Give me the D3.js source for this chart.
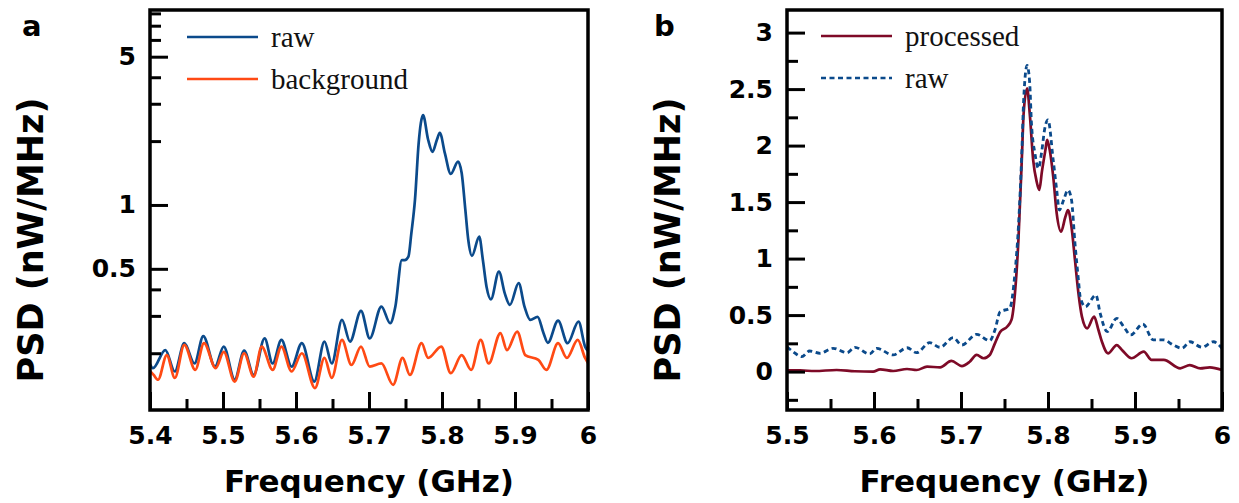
<!DOCTYPE html>
<html>
<head>
<meta charset="utf-8">
<script src="https://cdn.jsdelivr.net/npm/d3@7.9.0/dist/d3.min.js"></script>
<style>
  body { margin: 0; background: #fff; }
  svg { display: block; }
  .axis text { font-family: 'DejaVu Sans', sans-serif; font-weight: bold; font-size: 25px; fill: #000; }
  .axis path.domain { display: none; }
  .axis line { stroke: #000; stroke-width: 3; }
  .axis-title { font-family: 'DejaVu Sans', sans-serif; font-weight: bold; fill: #000; }
  .legend text { font-family: 'Liberation Serif', 'Times New Roman', serif; font-size: 29px; fill: #111; }
</style>
</head>
<body>
<svg id="chart" width="1239" height="503"></svg>
<script>
// ---- panel a: raw vs background (log axis) ----
const rawAFreq = [5.400, 5.404, 5.421, 5.434, 5.447, 5.461, 5.473, 5.489, 5.501, 5.516, 5.529, 5.542, 5.557, 5.568, 5.580, 5.594,
  5.608, 5.625, 5.639, 5.649, 5.663, 5.674, 5.689, 5.701, 5.717, 5.729, 5.736, 5.745, 5.749, 5.754, 5.758, 5.763,
  5.768, 5.771, 5.774, 5.781, 5.787, 5.793, 5.797, 5.804, 5.812, 5.822, 5.827, 5.832, 5.836, 5.841, 5.851, 5.856,
  5.861, 5.867, 5.878, 5.886, 5.893, 5.905, 5.913, 5.921, 5.931, 5.939, 5.945, 5.959, 5.972, 5.987, 5.996, 6.000];
const rawAPsd = [0.178, 0.17, 0.207, 0.164, 0.223, 0.179, 0.241, 0.173, 0.215, 0.15, 0.206, 0.158, 0.235, 0.179, 0.231, 0.173,
  0.223, 0.147, 0.227, 0.179, 0.287, 0.227, 0.317, 0.235, 0.332, 0.277, 0.33, 0.55, 0.55, 0.571, 0.735, 1.06,
  1.95, 2.43, 2.65, 2.03, 1.78, 2.03, 2.19, 1.75, 1.40, 1.6, 1.41, 0.947, 0.684, 0.575, 0.709, 0.55,
  0.412, 0.359, 0.485, 0.383, 0.338, 0.428, 0.332, 0.287, 0.297, 0.249, 0.224, 0.285, 0.223, 0.282, 0.215, 0.205];

const bgAFreq = [5.400, 5.405, 5.411, 5.423, 5.434, 5.447, 5.462, 5.474, 5.490, 5.501, 5.516, 5.529, 5.542, 5.553, 5.568, 5.580,
  5.594, 5.608, 5.626, 5.639, 5.649, 5.663, 5.676, 5.689, 5.701, 5.717, 5.733, 5.746, 5.756, 5.772, 5.781, 5.799,
  5.812, 5.827, 5.840, 5.853, 5.864, 5.880, 5.889, 5.903, 5.914, 5.932, 5.943, 5.959, 5.971, 5.986, 5.996, 6.000];
const bgAPsd = [0.165, 0.158, 0.15, 0.196, 0.153, 0.219, 0.167, 0.223, 0.17, 0.203, 0.147, 0.2, 0.155, 0.215, 0.167, 0.215,
  0.164, 0.2, 0.137, 0.19, 0.153, 0.231, 0.176, 0.215, 0.173, 0.179, 0.142, 0.19, 0.158, 0.223, 0.19, 0.215,
  0.161, 0.196, 0.167, 0.231, 0.179, 0.249, 0.207, 0.253, 0.196, 0.186, 0.167, 0.223, 0.19, 0.231, 0.19, 0.18];

const xTicksA = [5.4, 5.5, 5.6, 5.7, 5.8, 5.9, 6.0];
const xTickLabelsA = ['5.4', '5.5', '5.6', '5.7', '5.8', '5.9', '6'];
const xMinorA = [5.45, 5.55, 5.65, 5.75, 5.85, 5.95];
const yTicksA = [0.5, 1, 5];
const yTickLabelsA = ['0.5', '1', '5'];
const yMinorA = [0.2, 0.3, 0.4, 2, 3, 4, 6, 7, 8];

// ---- panel b: processed vs raw (linear axis) ----
const procBFreq = [5.500, 5.515, 5.532, 5.557, 5.578, 5.599, 5.607, 5.622, 5.638, 5.649, 5.661, 5.676, 5.689, 5.701, 5.710,
  5.718, 5.726, 5.733, 5.739, 5.745, 5.753, 5.758, 5.762, 5.766, 5.770, 5.772, 5.776, 5.779, 5.783, 5.787,
  5.790, 5.793, 5.797, 5.799, 5.802, 5.806, 5.810, 5.815, 5.820, 5.823, 5.827, 5.831, 5.835, 5.839, 5.845,
  5.853, 5.858, 5.862, 5.869, 5.879, 5.885, 5.896, 5.910, 5.919, 5.933, 5.952, 5.963, 5.975, 5.986, 6.000];
const procBPsd = [0.01, 0.01, 0.005, 0.014, 0.003, 0.0, 0.02, 0.005, 0.023, 0.014, 0.043, 0.038, 0.094, 0.049, 0.087,
  0.147, 0.118, 0.147, 0.25, 0.35, 0.397, 0.457, 0.693, 1.165, 1.9, 2.286, 2.507, 2.286, 1.87, 1.68,
  1.607, 1.77, 1.96, 2.05, 1.96, 1.725, 1.4, 1.238, 1.37, 1.43, 1.282, 0.988, 0.693, 0.486, 0.383,
  0.486, 0.368, 0.264, 0.162, 0.235, 0.191, 0.118, 0.176, 0.103, 0.103, 0.029, 0.058, 0.029, 0.038, 0.014];

const rawBFreq = [5.500, 5.507, 5.517, 5.526, 5.538, 5.553, 5.569, 5.578, 5.595, 5.603, 5.622, 5.638, 5.649, 5.664, 5.676,
  5.691, 5.701, 5.718, 5.733, 5.739, 5.745, 5.756, 5.762, 5.766, 5.770, 5.772, 5.776, 5.779, 5.781, 5.785,
  5.789, 5.793, 5.796, 5.800, 5.806, 5.810, 5.813, 5.818, 5.823, 5.827, 5.831, 5.835, 5.837, 5.843, 5.855,
  5.860, 5.868, 5.879, 5.887, 5.895, 5.909, 5.921, 5.933, 5.944, 5.954, 5.963, 5.977, 5.990, 6.000];
const rawBPsd = [0.22, 0.176, 0.132, 0.182, 0.162, 0.206, 0.167, 0.215, 0.156, 0.206, 0.147, 0.211, 0.167, 0.256, 0.215,
  0.3, 0.235, 0.33, 0.273, 0.368, 0.53, 0.56, 0.87, 1.28, 1.96, 2.40, 2.71, 2.55, 2.197, 1.93,
  1.80, 1.96, 2.138, 2.227, 1.87, 1.607, 1.43, 1.52, 1.607, 1.52, 1.135, 0.81, 0.663, 0.574, 0.678,
  0.516, 0.353, 0.471, 0.397, 0.324, 0.421, 0.28, 0.28, 0.235, 0.206, 0.264, 0.215, 0.264, 0.206];

const xTicksB = [5.5, 5.6, 5.7, 5.8, 5.9, 6.0];
const xTickLabelsB = ['5.5', '5.6', '5.7', '5.8', '5.9', '6'];
const xMinorB = [5.55, 5.65, 5.75, 5.85, 5.95];
const yTicksB = [0, 0.5, 1, 1.5, 2, 2.5, 3];
const yTickLabelsB = ['0', '0.5', '1', '1.5', '2', '2.5', '3'];
const yMinorB = [-0.25, 0.25, 0.75, 1.25, 1.75, 2.25, 2.75];

const TOP = 10;
const BOTTOM = 410;
const MAJOR_TICK = 18;
const MINOR_TICK = 11;

const COLOR_RAW = '#0b4a8b';
const COLOR_BG = '#ff4a14';
const COLOR_PROC = '#7e0a27';

const svg = d3.select('#chart');

function toPoints(freqs, values) {
  return freqs.map((f, i) => ({ f, v: values[i] }));
}

function drawAxes(g, x, y, cfg) {
  g.append('g')
    .attr('class', 'axis')
    .attr('transform', `translate(0,${BOTTOM})`)
    .call(d3.axisBottom(x).tickValues(cfg.xMinor).tickFormat('').tickSize(-MINOR_TICK));

  g.append('g')
    .attr('class', 'axis')
    .attr('transform', `translate(0,${BOTTOM})`)
    .call(
      d3.axisBottom(x)
        .tickValues(cfg.xTicks)
        .tickFormat((d, i) => cfg.xLabels[i])
        .tickSize(-MAJOR_TICK)
        .tickPadding(16)
    );

  g.append('g')
    .attr('class', 'axis')
    .attr('transform', `translate(${cfg.left},0)`)
    .call(d3.axisLeft(y).tickValues(cfg.yMinor).tickFormat('').tickSize(-MINOR_TICK));

  g.append('g')
    .attr('class', 'axis')
    .attr('transform', `translate(${cfg.left},0)`)
    .call(
      d3.axisLeft(y)
        .tickValues(cfg.yTicks)
        .tickFormat((d, i) => cfg.yLabels[i])
        .tickSize(-MAJOR_TICK)
        .tickPadding(14)
    );

  g.append('rect')
    .attr('x', cfg.left)
    .attr('y', TOP)
    .attr('width', cfg.right - cfg.left)
    .attr('height', BOTTOM - TOP)
    .attr('fill', 'none')
    .attr('stroke', '#000')
    .attr('stroke-width', 3.5);

  g.append('text')
    .attr('class', 'axis-title')
    .attr('x', (cfg.left + cfg.right) / 2)
    .attr('y', 492)
    .attr('text-anchor', 'middle')
    .style('font-size', '31px')
    .text('Frequency (GHz)');

  g.append('text')
    .attr('class', 'axis-title')
    .attr('transform', `translate(${cfg.yTitleX},240) rotate(-90)`)
    .attr('text-anchor', 'middle')
    .style('font-size', '35px')
    .text('PSD (nW/MHz)');

  g.append('text')
    .attr('class', 'axis-title')
    .attr('x', cfg.letterX)
    .attr('y', 36)
    .style('font-size', '29px')
    .text(cfg.letter);
}

function drawLegend(g, items, x0, y0) {
  const legend = g.append('g').attr('class', 'legend');
  items.forEach((item, i) => {
    const yy = y0 + i * 42;
    legend.append('line')
      .attr('x1', x0)
      .attr('x2', x0 + 71)
      .attr('y1', yy)
      .attr('y2', yy)
      .attr('stroke', item.color)
      .attr('stroke-width', 2.6)
      .attr('stroke-dasharray', item.dash || null);
    legend.append('text')
      .attr('x', x0 + 84)
      .attr('y', yy + 9.5)
      .text(item.label);
  });
}

function drawSeries(g, x, y, points, color, dash) {
  const line = d3.line()
    .x((d) => x(d.f))
    .y((d) => y(d.v))
    .curve(d3.curveMonotoneX);

  g.append('path')
    .datum(points)
    .attr('d', line)
    .attr('fill', 'none')
    .attr('stroke', color)
    .attr('stroke-width', dash ? 2.8 : 2.7)
    .attr('stroke-linejoin', 'round')
    .attr('stroke-dasharray', dash || null);
}

// panel a
const cfgA = {
  left: 150, right: 588, letter: 'a', letterX: 22, yTitleX: 43,
  xTicks: xTicksA, xLabels: xTickLabelsA, xMinor: xMinorA,
  yTicks: yTicksA, yLabels: yTickLabelsA, yMinor: yMinorA,
};
const gA = svg.append('g');
const xA = d3.scaleLinear().domain([5.4, 6.0]).range([cfgA.left, cfgA.right]);
const yA = d3.scaleLog().domain([0.108, 8.3]).range([BOTTOM, TOP]);
drawSeries(gA, xA, yA, toPoints(rawAFreq, rawAPsd), COLOR_RAW);
drawSeries(gA, xA, yA, toPoints(bgAFreq, bgAPsd), COLOR_BG);
drawAxes(gA, xA, yA, cfgA);
drawLegend(gA, [
  { label: 'raw', color: COLOR_RAW },
  { label: 'background', color: COLOR_BG },
], 187, 37);

// panel b
const cfgB = {
  left: 787, right: 1222, letter: 'b', letterX: 654, yTitleX: 680,
  xTicks: xTicksB, xLabels: xTickLabelsB, xMinor: xMinorB,
  yTicks: yTicksB, yLabels: yTickLabelsB, yMinor: yMinorB,
};
const gB = svg.append('g');
const xB = d3.scaleLinear().domain([5.5, 6.0]).range([cfgB.left, cfgB.right]);
const yB = d3.scaleLinear().domain([-0.34, 3.2]).range([BOTTOM, TOP]);
drawSeries(gB, xB, yB, toPoints(procBFreq, procBPsd), COLOR_PROC);
drawSeries(gB, xB, yB, toPoints(rawBFreq, rawBPsd), COLOR_RAW, '5,3.5');
drawAxes(gB, xB, yB, cfgB);
drawLegend(gB, [
  { label: 'processed', color: COLOR_PROC },
  { label: 'raw', color: COLOR_RAW, dash: '5,3.5' },
], 821, 36);
</script>
</body>
</html>
